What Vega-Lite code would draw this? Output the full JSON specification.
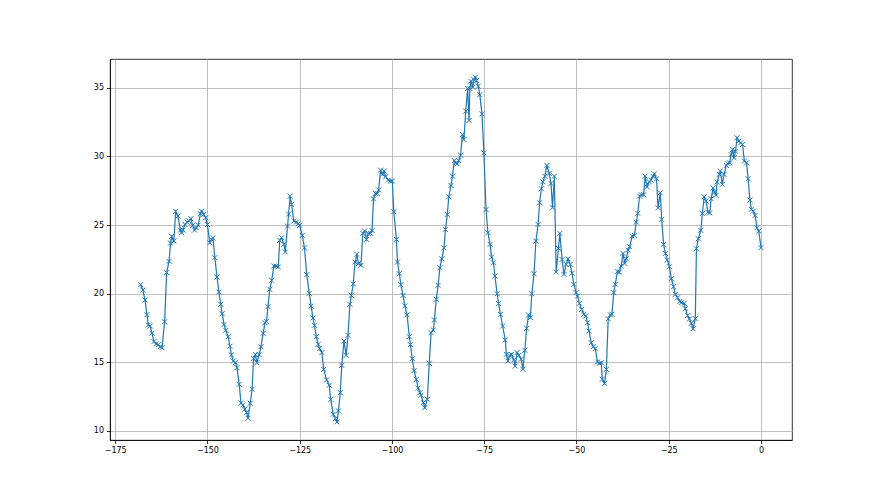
{
  "$schema": "https://vega.github.io/schema/vega-lite/v6.json",
  "width": 682,
  "height": 381,
  "autosize": {"type": "none"},
  "padding": {"left": 110, "top": 59, "right": 88, "bottom": 55},
  "background": "white",
  "data": {"values": [
    {"h":-168.1,"v":20.65},{"h":-167.5,"v":20.26},{"h":-166.9,"v":19.53},{"h":-166.4,"v":18.47},{"h":-166.0,"v":17.71},{"h":-165.5,"v":17.64},{"h":-165.0,"v":17.11},{"h":-164.5,"v":16.5},{"h":-163.9,"v":16.35},{"h":-163.3,"v":16.28},{"h":-162.8,"v":16.13},{"h":-162.3,"v":16.06},{"h":-161.6,"v":17.95},{"h":-161.05,"v":21.53},{"h":-160.4,"v":22.35},{"h":-160.0,"v":23.68},{"h":-159.7,"v":24.17},{"h":-159.1,"v":23.83},{"h":-158.6,"v":25.99},{"h":-158.0,"v":25.65},{"h":-157.3,"v":24.63},{"h":-157.0,"v":24.44},{"h":-156.6,"v":24.63},{"h":-156.1,"v":25.04},{"h":-155.5,"v":25.21},{"h":-155.0,"v":25.31},{"h":-154.5,"v":25.46},{"h":-154.0,"v":24.97},{"h":-153.5,"v":24.63},{"h":-153.0,"v":24.8},{"h":-152.5,"v":25.0},{"h":-151.9,"v":25.82},{"h":-151.6,"v":26.01},{"h":-151.0,"v":25.77},{"h":-150.5,"v":25.53},{"h":-150.0,"v":25.04},
    {"h":-149.4,"v":23.7},{"h":-148.9,"v":23.95},{"h":-148.5,"v":24.05},{"h":-148.0,"v":22.62},{"h":-147.4,"v":21.21},{"h":-146.9,"v":20.12},{"h":-146.4,"v":19.22},{"h":-146.0,"v":18.54},{"h":-145.5,"v":17.74},{"h":-145.0,"v":17.32},{"h":-144.4,"v":16.86},{"h":-143.9,"v":16.16},{"h":-143.5,"v":15.53},{"h":-143.0,"v":15.09},{"h":-142.4,"v":14.97},{"h":-142.0,"v":14.6},{"h":-141.4,"v":13.39},{"h":-140.9,"v":12.01},{"h":-140.4,"v":11.89},{"h":-139.9,"v":11.57},{"h":-139.4,"v":11.33},{"h":-139.0,"v":10.91},{"h":-138.4,"v":12.01},{"h":-137.9,"v":13.03},{"h":-137.5,"v":15.26},{"h":-137.0,"v":15.55},{"h":-136.6,"v":14.97},{"h":-136.0,"v":15.55},{"h":-135.5,"v":16.13},{"h":-134.9,"v":17.1},{"h":-134.4,"v":17.88},{"h":-134.0,"v":17.98},{"h":-133.6,"v":19.05},{"h":-133.1,"v":20.31},{"h":-132.6,"v":20.97},{"h":-132.0,"v":22.01},{"h":-131.4,"v":22.01},{"h":-130.8,"v":21.94},{"h":-130.4,"v":23.88},{"h":-129.9,"v":24.07},{"h":-129.3,"v":23.59},{"h":-128.9,"v":23.03},{"h":-128.3,"v":24.92},{"h":-128.0,"v":25.8},
    {"h":-127.6,"v":27.1},{"h":-127.2,"v":26.5},{"h":-126.6,"v":25.29},{"h":-125.9,"v":25.21},{"h":-125.4,"v":25.1},{"h":-125.0,"v":24.97},{"h":-124.3,"v":24.24},{"h":-123.7,"v":23.34},{"h":-123.1,"v":21.38},{"h":-122.4,"v":20.02},{"h":-121.9,"v":19.09},{"h":-121.4,"v":18.22},{"h":-121.0,"v":17.69},{"h":-120.5,"v":16.86},{"h":-120.0,"v":16.3},{"h":-119.6,"v":15.99},{"h":-119.0,"v":15.7},{"h":-118.5,"v":14.48},{"h":-117.7,"v":13.71},{"h":-117.0,"v":13.32},{"h":-116.6,"v":12.3},{"h":-115.9,"v":11.21},{"h":-115.3,"v":10.89},{"h":-114.9,"v":10.65},{"h":-114.5,"v":11.45},{"h":-114.0,"v":12.78},{"h":-113.6,"v":14.77},{"h":-113.0,"v":16.55},{"h":-112.4,"v":15.5},{"h":-111.9,"v":16.96},{"h":-111.4,"v":19.22},{"h":-111.0,"v":19.87},{"h":-110.5,"v":20.72},{"h":-110.0,"v":22.3},{"h":-109.5,"v":22.86},{"h":-109.1,"v":22.18},{"h":-108.4,"v":22.06},{"h":-107.9,"v":24.39},{"h":-107.4,"v":24.56},{"h":-106.9,"v":23.95},{"h":-106.4,"v":24.39},{"h":-105.8,"v":24.39},
    {"h":-105.4,"v":24.6},{"h":-105.0,"v":26.9},{"h":-104.5,"v":27.3},{"h":-104.0,"v":27.3},{"h":-103.6,"v":27.55},{"h":-103.1,"v":29.0},{"h":-102.6,"v":28.69},{"h":-102.1,"v":28.93},{"h":-101.7,"v":28.52},{"h":-101.0,"v":28.27},{"h":-100.4,"v":28.2},{"h":-99.9,"v":28.2},{"h":-99.5,"v":25.97},{"h":-98.8,"v":23.95},{"h":-98.5,"v":22.3},{"h":-98.0,"v":21.45},{"h":-97.6,"v":20.65},{"h":-97.0,"v":19.87},{"h":-96.5,"v":19.1},{"h":-95.9,"v":18.46},{"h":-95.3,"v":16.86},{"h":-95.0,"v":16.28},{"h":-94.5,"v":15.26},{"h":-94.0,"v":14.39},{"h":-93.4,"v":13.75},{"h":-92.9,"v":13.12},{"h":-92.4,"v":12.78},{"h":-92.1,"v":12.59},{"h":-91.5,"v":12.06},{"h":-91.1,"v":11.69},{"h":-90.4,"v":12.3},{"h":-89.9,"v":14.92},{"h":-89.4,"v":17.15},{"h":-88.8,"v":17.35},{"h":-88.5,"v":18.08},{"h":-88.0,"v":19.58},{"h":-87.5,"v":20.6},{"h":-87.0,"v":21.89},{"h":-86.5,"v":22.54},{"h":-85.9,"v":23.34},{"h":-85.5,"v":24.68},{"h":-85.0,"v":25.77},{"h":-84.6,"v":27.06},{"h":-84.0,"v":27.88},{"h":-83.6,"v":28.56},
    {"h":-83.1,"v":29.7},{"h":-82.7,"v":29.53},{"h":-82.3,"v":29.46},{"h":-81.9,"v":29.7},{"h":-81.4,"v":30.09},{"h":-80.9,"v":31.6},{"h":-80.5,"v":31.23},{"h":-80.0,"v":33.3},{"h":-79.5,"v":34.95},{"h":-79.1,"v":32.62},{"h":-78.9,"v":34.95},{"h":-78.6,"v":35.48},{"h":-78.1,"v":35.05},{"h":-77.8,"v":35.6},{"h":-77.4,"v":35.77},{"h":-77.1,"v":35.53},{"h":-76.6,"v":35.12},{"h":-76.2,"v":34.5},{"h":-75.6,"v":33.1},{"h":-75.1,"v":30.26},{"h":-74.5,"v":26.13},{"h":-74.0,"v":24.44},{"h":-73.4,"v":23.59},{"h":-73.0,"v":22.66},{"h":-72.5,"v":22.25},{"h":-72.1,"v":21.28},{"h":-71.5,"v":19.99},{"h":-71.1,"v":19.27},{"h":-70.6,"v":18.49},{"h":-70.0,"v":17.64},
    {"h":-69.3,"v":16.62},{"h":-69.0,"v":15.57},{"h":-68.6,"v":15.09},{"h":-68.1,"v":15.5},{"h":-67.6,"v":15.57},{"h":-67.0,"v":15.16},{"h":-66.6,"v":14.72},{"h":-66.1,"v":15.7},{"h":-65.6,"v":15.5},{"h":-65.0,"v":15.21},{"h":-64.5,"v":14.48},{"h":-64.0,"v":15.87},{"h":-63.5,"v":17.47},{"h":-63.0,"v":18.44},{"h":-62.5,"v":18.25},{"h":-62.1,"v":19.99},{"h":-61.5,"v":21.45},{"h":-61.0,"v":23.83},{"h":-60.4,"v":25.04},{"h":-60.0,"v":26.62},{"h":-59.5,"v":27.64},{"h":-59.1,"v":28.15},{"h":-58.6,"v":28.56},{"h":-58.0,"v":29.34},{"h":-57.4,"v":28.76},{"h":-56.9,"v":28.03},{"h":-56.5,"v":26.26},{"h":-56.0,"v":28.56},{"h":-55.5,"v":21.57},{"h":-54.9,"v":23.3},{"h":-54.5,"v":24.39},{"h":-53.9,"v":22.49},{"h":-53.4,"v":21.4},{"h":-52.8,"v":22.13},{"h":-52.3,"v":22.54},{"h":-51.7,"v":22.13},{"h":-51.2,"v":21.48},{"h":-50.7,"v":20.67},{"h":-50.1,"v":20.07},{"h":-49.7,"v":19.82},{"h":-49.2,"v":19.29},{"h":-48.6,"v":18.85},{"h":-48.0,"v":18.49},{"h":-47.5,"v":18.37},{"h":-47.0,"v":17.88},{"h":-46.6,"v":17.27},{"h":-46.0,"v":16.42},{"h":-45.4,"v":16.13},{"h":-44.9,"v":15.99},{"h":-44.3,"v":15.02},{"h":-43.8,"v":14.92},
    {"h":-43.3,"v":14.97},{"h":-43.0,"v":13.76},{"h":-42.4,"v":13.46},{"h":-41.9,"v":14.48},{"h":-41.4,"v":18.17},{"h":-40.8,"v":18.44},{"h":-40.4,"v":18.49},{"h":-39.9,"v":20.07},{"h":-39.5,"v":20.67},{"h":-38.9,"v":21.6},{"h":-38.4,"v":21.57},{"h":-37.9,"v":22.01},{"h":-37.4,"v":22.93},{"h":-36.9,"v":22.2},{"h":-36.5,"v":22.54},{"h":-36.0,"v":23.17},{"h":-35.6,"v":23.42},{"h":-34.9,"v":24.19},{"h":-34.3,"v":24.24},{"h":-33.8,"v":25.21},{"h":-33.4,"v":25.85},{"h":-32.9,"v":27.11},{"h":-32.4,"v":27.2},{"h":-31.8,"v":27.2},{"h":-31.4,"v":28.56},{"h":-30.9,"v":27.79},{"h":-30.3,"v":28.15},{"h":-29.8,"v":28.27},{"h":-29.3,"v":28.56},{"h":-28.9,"v":28.73},{"h":-28.3,"v":28.37},{"h":-27.9,"v":26.26},{"h":-27.3,"v":27.35},{"h":-26.9,"v":25.41},{"h":-26.4,"v":23.59},{"h":-25.9,"v":22.93},{"h":-25.4,"v":22.45},{"h":-24.8,"v":21.96},{"h":-24.3,"v":21.09},{"h":-23.7,"v":20.5},{"h":-23.2,"v":19.95},{"h":-22.6,"v":19.7},
    {"h":-22.0,"v":19.42},{"h":-21.5,"v":19.34},{"h":-20.8,"v":19.29},{"h":-20.5,"v":18.9},{"h":-19.9,"v":18.4},{"h":-19.4,"v":18.15},{"h":-18.9,"v":17.83},{"h":-18.4,"v":17.44},{"h":-17.8,"v":18.17},{"h":-17.5,"v":23.27},{"h":-17.0,"v":24.0},{"h":-16.3,"v":24.61},{"h":-15.9,"v":25.84},{"h":-15.4,"v":27.06},{"h":-14.9,"v":26.74},{"h":-14.4,"v":25.94},{"h":-13.9,"v":25.89},{"h":-13.5,"v":26.91},{"h":-13.0,"v":27.71},{"h":-12.6,"v":27.4},{"h":-12.2,"v":27.16},{"h":-11.9,"v":28.13},{"h":-11.3,"v":28.69},{"h":-11.0,"v":28.93},{"h":-10.5,"v":27.96},{"h":-10.0,"v":28.69},{"h":-9.4,"v":29.34},{"h":-9.0,"v":29.49},{"h":-8.5,"v":29.53},{"h":-8.1,"v":30.14},{"h":-7.7,"v":30.51},{"h":-7.3,"v":29.9},{"h":-6.9,"v":30.38},{"h":-6.5,"v":31.36},{"h":-6.0,"v":31.11},{"h":-5.5,"v":30.99},{"h":-5.0,"v":30.87},{"h":-4.5,"v":29.66},{"h":-3.9,"v":29.53},{"h":-3.5,"v":28.37},{"h":-3.0,"v":26.82},{"h":-2.6,"v":26.14},{"h":-2.1,"v":26.01},{"h":-1.6,"v":25.7},{"h":-1.1,"v":24.8},{"h":-0.6,"v":24.56},{"h":0.0,"v":23.35}
  ]},
  "encoding": {
    "x": {"field": "h", "type": "quantitative", "scale": {"domain": [-176.4, 8.4], "nice": false, "zero": false},
      "axis": {"values": [-175, -150, -125, -100, -75, -50, -25, 0], "title": null}},
    "y": {"field": "v", "type": "quantitative", "scale": {"domain": [9.33, 37.1], "nice": false, "zero": false},
      "axis": {"values": [10, 15, 20, 25, 30, 35], "title": null}}
  },
  "layer": [
    {"mark": {"type": "line", "color": "#1f77b4", "strokeWidth": 1.2, "clip": true}},
    {"mark": {"type": "point", "shape": "M-1,-1L1,1M-1,1L1,-1", "size": 25, "filled": false, "color": "#1f77b4", "strokeWidth": 1, "opacity": 1, "clip": true}}
  ],
  "config": {
    "view": {"stroke": "#000000", "strokeWidth": 0.8},
    "axis": {
      "grid": true, "gridColor": "#b0b0b0", "gridWidth": 0.8,
      "domainColor": "#000000", "domainWidth": 0.8,
      "tickColor": "#000000", "tickSize": 3.5, "tickWidth": 0.8,
      "labelFont": "DejaVu Sans", "labelFontSize": 8, "labelColor": "#000000", "labelPadding": 3
    }
  }
}
